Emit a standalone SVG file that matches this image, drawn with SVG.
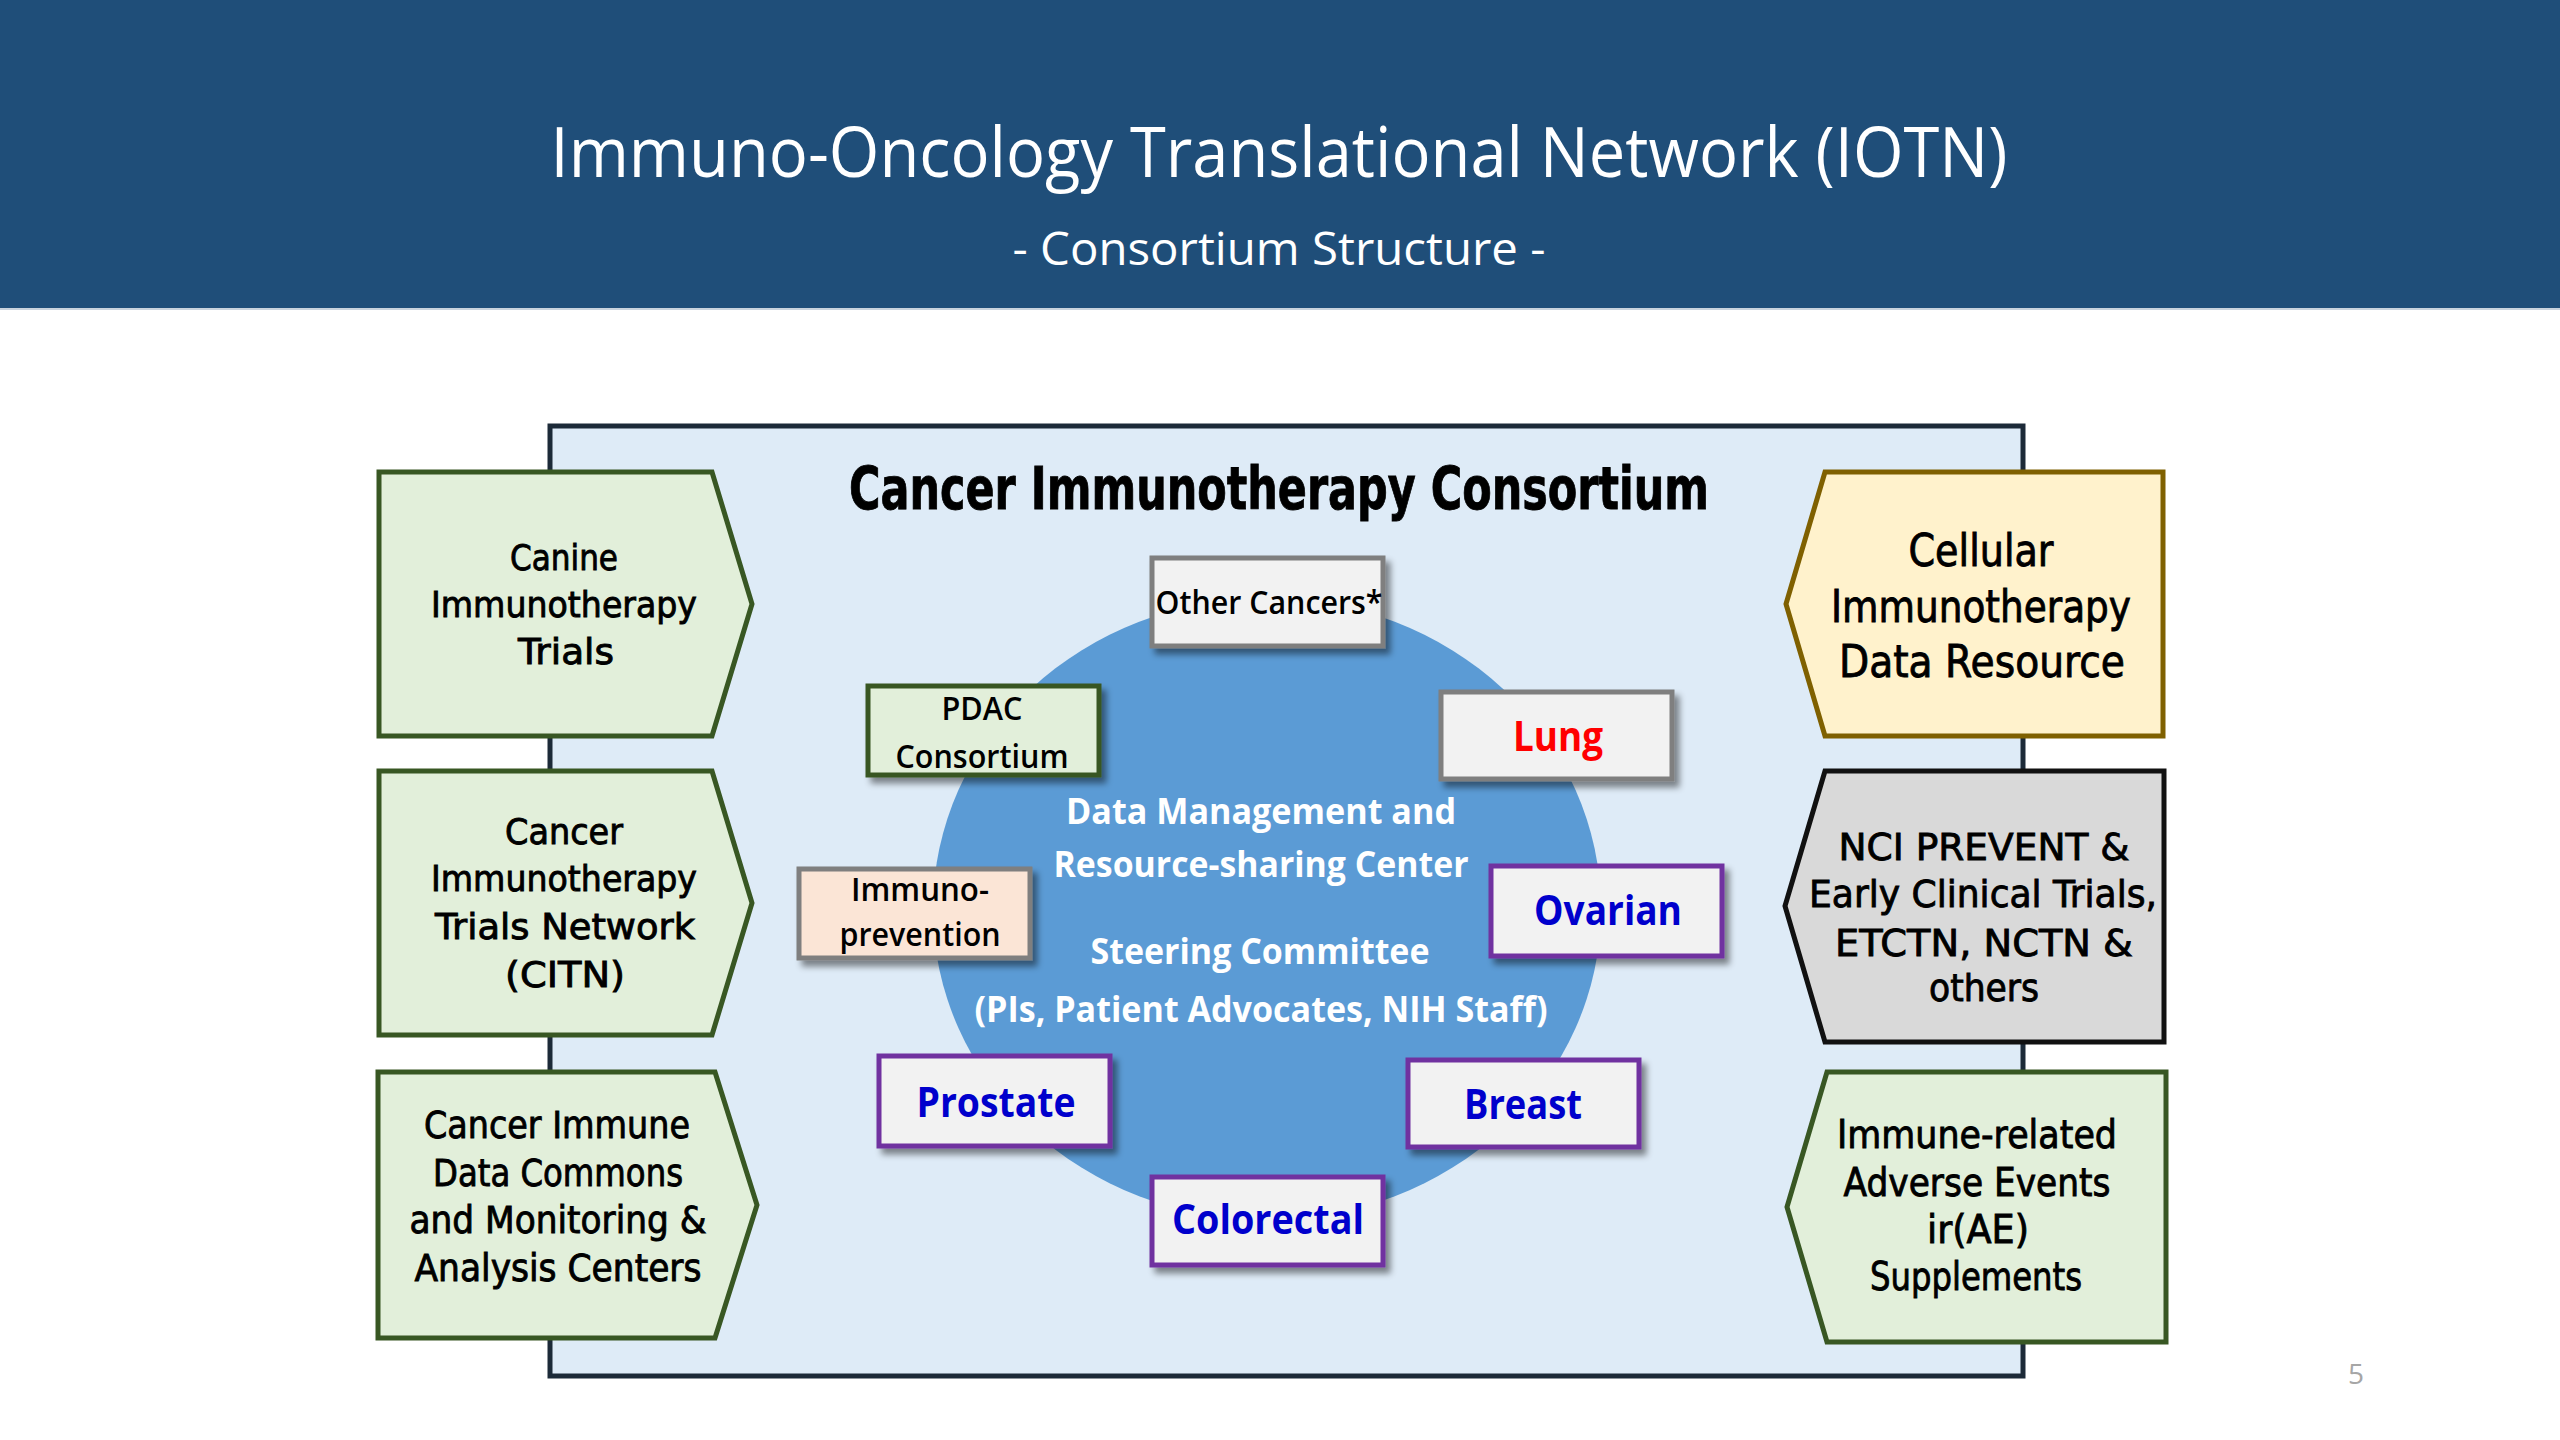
<svg xmlns="http://www.w3.org/2000/svg" width="2560" height="1440" viewBox="0 0 2560 1440">
<defs>
<filter id="sh" x="-20%" y="-20%" width="150%" height="160%">
<feDropShadow dx="5" dy="6" stdDeviation="3" flood-color="#000" flood-opacity="0.45"/>
</filter>
<style>
.hd{font-family:"Open Sans","Liberation Sans",sans-serif;fill:#fff;text-anchor:middle}
.cm{font-family:"DejaVu Sans","Liberation Sans",sans-serif;fill:#000;text-anchor:middle;stroke:#000;stroke-width:0.9px}
.cb{font-family:"Open Sans","Liberation Sans",sans-serif;text-anchor:middle}
.sb{font-weight:600}
.side{stroke-width:5;stroke-linejoin:miter}
.grn{fill:#E2EFDA;stroke:#385723}
.ylw{fill:#FFF2CC;stroke:#7F6000}
.gry{fill:#D9D9D9;stroke:#111}
.ib{stroke-width:5;filter:url(#sh)}
.ibg{fill:#F2F2F2;stroke:#7F7F7F}
.ibp{fill:#F2F2F2;stroke:#7030A0}
.blue{fill:#0000CC;font-weight:700;font-size:42px}
.ctr{fill:#fff;font-weight:700;font-size:36px}
</style>
</defs>
<rect x="0" y="0" width="2560" height="1440" fill="#fff"/>
<g id="header">
<rect x="0" y="0" width="2560" height="308" fill="#1F4E79"/>
<line x1="0" y1="309" x2="2560" y2="309" stroke="#c9d3dd" stroke-width="2"/>
<text class="hd" x="1279" y="177" font-size="70" textLength="1457" lengthAdjust="spacingAndGlyphs">Immuno-Oncology Translational Network (IOTN)</text>
<text class="hd" x="1279" y="265" font-size="46" textLength="533" lengthAdjust="spacingAndGlyphs">- Consortium Structure -</text>
</g>
<g id="consortium">
<rect x="550" y="426" width="1473" height="950" fill="#DEEBF7" stroke="#1C2A38" stroke-width="5"/>
<text class="cm" x="1279" y="509" font-size="58" font-weight="700" textLength="860" lengthAdjust="spacingAndGlyphs">Cancer Immunotherapy Consortium</text>
</g>
<g id="center">
<ellipse cx="1267" cy="909" rx="334" ry="311" fill="#5B9BD5"/>
<text class="cb ctr" x="1261" y="824" textLength="390" lengthAdjust="spacingAndGlyphs">Data Management and</text>
<text class="cb ctr" x="1261" y="877" textLength="415" lengthAdjust="spacingAndGlyphs">Resource-sharing Center</text>
<text class="cb ctr" x="1260" y="964" textLength="339" lengthAdjust="spacingAndGlyphs">Steering Committee</text>
<text class="cb ctr" x="1261" y="1022" textLength="573" lengthAdjust="spacingAndGlyphs">(PIs, Patient Advocates, NIH Staff)</text>
</g>
<g id="canine">
<polygon class="side grn" points="379,472 712,472 752,604 712,736 379,736"/>
<text class="cm" x="564" y="570" font-size="36" textLength="108" lengthAdjust="spacingAndGlyphs">Canine</text>
<text class="cm" x="564" y="617" font-size="36" textLength="266" lengthAdjust="spacingAndGlyphs">Immunotherapy</text>
<text class="cm" x="566" y="664" font-size="36" textLength="96" lengthAdjust="spacingAndGlyphs">Trials</text>
</g>
<g id="citn">
<polygon class="side grn" points="379,771 712,771 752,903 712,1035 379,1035"/>
<text class="cm" x="564" y="844" font-size="36" textLength="118" lengthAdjust="spacingAndGlyphs">Cancer</text>
<text class="cm" x="564" y="891" font-size="36" textLength="266" lengthAdjust="spacingAndGlyphs">Immunotherapy</text>
<text class="cm" x="565" y="939" font-size="36" textLength="260" lengthAdjust="spacingAndGlyphs">Trials Network</text>
<text class="cm" x="565" y="987" font-size="36" textLength="120" lengthAdjust="spacingAndGlyphs">(CITN)</text>
</g>
<g id="cidc">
<polygon class="side grn" points="378,1072 715,1072 757,1205 715,1338 378,1338"/>
<text class="cm" x="557" y="1138" font-size="37" textLength="266" lengthAdjust="spacingAndGlyphs">Cancer Immune</text>
<text class="cm" x="558" y="1186" font-size="37" textLength="250" lengthAdjust="spacingAndGlyphs">Data Commons</text>
<text class="cm" x="558" y="1233" font-size="37" textLength="297" lengthAdjust="spacingAndGlyphs">and Monitoring &amp;</text>
<text class="cm" x="558" y="1281" font-size="37" textLength="287" lengthAdjust="spacingAndGlyphs">Analysis Centers</text>
</g>
<g id="cidr">
<polygon class="side ylw" points="2163,472 1825,472 1786,604 1825,736 2163,736"/>
<text class="cm" x="1981" y="566" font-size="44" textLength="145" lengthAdjust="spacingAndGlyphs">Cellular</text>
<text class="cm" x="1981" y="622" font-size="44" textLength="300" lengthAdjust="spacingAndGlyphs">Immunotherapy</text>
<text class="cm" x="1982" y="677" font-size="44" textLength="286" lengthAdjust="spacingAndGlyphs">Data Resource</text>
</g>
<g id="nci">
<polygon class="side gry" points="2164,771 1825,771 1785,906 1825,1042 2164,1042"/>
<text class="cm" x="1984" y="860" font-size="38" textLength="291" lengthAdjust="spacingAndGlyphs">NCI PREVENT &amp;</text>
<text class="cm" x="1983" y="907" font-size="38" textLength="348" lengthAdjust="spacingAndGlyphs">Early Clinical Trials,</text>
<text class="cm" x="1984" y="956" font-size="38" textLength="298" lengthAdjust="spacingAndGlyphs">ETCTN, NCTN &amp;</text>
<text class="cm" x="1984" y="1001" font-size="38" textLength="110" lengthAdjust="spacingAndGlyphs">others</text>
</g>
<g id="irae">
<polygon class="side grn" points="2166,1072 1827,1072 1787,1207 1827,1342 2166,1342"/>
<text class="cm" x="1977" y="1148" font-size="39" textLength="280" lengthAdjust="spacingAndGlyphs">Immune-related</text>
<text class="cm" x="1977" y="1196" font-size="39" textLength="267" lengthAdjust="spacingAndGlyphs">Adverse Events</text>
<text class="cm" x="1978" y="1243" font-size="39" textLength="102" lengthAdjust="spacingAndGlyphs">ir(AE)</text>
<text class="cm" x="1976" y="1290" font-size="39" textLength="212" lengthAdjust="spacingAndGlyphs">Supplements</text>
</g>
<g id="other-cancers">
<rect class="ib ibg" x="1152" y="558" width="231" height="88"/>
<text class="cb sb" x="1269" y="614" font-size="32" fill="#000" textLength="227" lengthAdjust="spacingAndGlyphs">Other Cancers*</text>
</g>
<g id="pdac">
<rect class="ib" x="868" y="686" width="231" height="89" fill="#E2EFDA" stroke="#385723"/>
<text class="cb sb" x="982" y="720" font-size="32" fill="#000" textLength="81" lengthAdjust="spacingAndGlyphs">PDAC</text>
<text class="cb sb" x="982" y="768" font-size="32" fill="#000" textLength="173" lengthAdjust="spacingAndGlyphs">Consortium</text>
</g>
<g id="lung">
<rect class="ib ibg" x="1441" y="692" width="231" height="87"/>
<text class="cb" x="1558" y="751" font-size="42" font-weight="700" fill="#FF0000" textLength="90" lengthAdjust="spacingAndGlyphs">Lung</text>
</g>
<g id="immunoprevention">
<rect class="ib" x="799" y="869" width="231" height="89" fill="#FBE5D6" stroke="#7F7F7F"/>
<text class="cb sb" x="920" y="901" font-size="32" fill="#000" textLength="138" lengthAdjust="spacingAndGlyphs">Immuno-</text>
<text class="cb sb" x="920" y="946" font-size="32" fill="#000" textLength="161" lengthAdjust="spacingAndGlyphs">prevention</text>
</g>
<g id="ovarian">
<rect class="ib ibp" x="1491" y="866" width="231" height="90"/>
<text class="cb blue" x="1608" y="925" textLength="148" lengthAdjust="spacingAndGlyphs">Ovarian</text>
</g>
<g id="prostate">
<rect class="ib ibp" x="879" y="1056" width="231" height="90"/>
<text class="cb blue" x="996" y="1117" textLength="159" lengthAdjust="spacingAndGlyphs">Prostate</text>
</g>
<g id="breast">
<rect class="ib ibp" x="1408" y="1060" width="231" height="87"/>
<text class="cb blue" x="1523" y="1119" textLength="118" lengthAdjust="spacingAndGlyphs">Breast</text>
</g>
<g id="colorectal">
<rect class="ib ibp" x="1152" y="1177" width="231" height="88"/>
<text class="cb blue" x="1268" y="1234" textLength="192" lengthAdjust="spacingAndGlyphs">Colorectal</text>
</g>
<g id="page-number">
<text x="2356" y="1384" font-family="Open Sans, Liberation Sans, sans-serif" font-size="28" fill="#A6A6A6" text-anchor="middle">5</text>
</g>
</svg>
